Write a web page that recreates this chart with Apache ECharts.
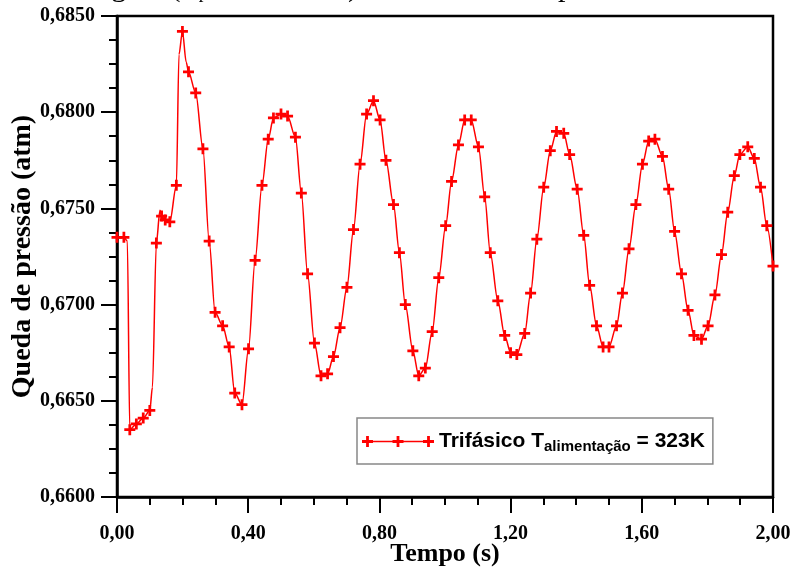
<!DOCTYPE html>
<html>
<head>
<meta charset="utf-8">
<script src="https://cdn.jsdelivr.net/npm/echarts@6/dist/echarts.min.js"></script>
<style>
html,body{margin:0;padding:0;background:#fff;}
#chart{width:794px;height:574px;}
</style>
</head>
<body>
<div id="chart"></div>
<script>
// Time (s)
const timeS = [
  0.000, 0.021, 0.0315, 0.039, 0.059, 0.080, 0.100, 0.108, 0.120, 0.131,
  0.136, 0.147, 0.161, 0.181, 0.189, 0.1995, 0.211, 0.218, 0.240, 0.262,
  0.281, 0.299, 0.322, 0.342, 0.359, 0.381, 0.401, 0.421, 0.442, 0.461,
  0.477, 0.500, 0.520, 0.544, 0.562, 0.581, 0.602, 0.622, 0.642, 0.660,
  0.680, 0.701, 0.721, 0.741, 0.761, 0.782, 0.802, 0.820, 0.843, 0.861,
  0.879, 0.902, 0.920, 0.940, 0.961, 0.981, 1.002, 1.020, 1.041, 1.060,
  1.080, 1.102, 1.121, 1.138, 1.161, 1.182, 1.200, 1.219, 1.243, 1.261,
  1.280, 1.301, 1.321, 1.340, 1.362, 1.380, 1.403, 1.423, 1.441, 1.462,
  1.482, 1.500, 1.523, 1.541, 1.561, 1.582, 1.602, 1.621, 1.640, 1.663,
  1.682, 1.700, 1.721, 1.741, 1.759, 1.782, 1.802, 1.823, 1.843, 1.862,
  1.882, 1.899, 1.923, 1.943, 1.962, 1.981, 2.000
];
// Queda de pressão (atm)
const pressureAtm = [
  0.6735, 0.6735, 0.6733, 0.6635, 0.6638, 0.6641, 0.6645, 0.6657, 0.6732, 0.6749,
  0.6746, 0.6744, 0.6743, 0.6762, 0.6830, 0.6842, 0.6826, 0.6821, 0.6810, 0.6781,
  0.6733, 0.6696, 0.6689, 0.6678, 0.6654, 0.6648, 0.6677, 0.6723, 0.6762, 0.6786,
  0.6797, 0.6799, 0.6798, 0.6787, 0.6758, 0.6716, 0.6680, 0.6663, 0.6664, 0.6673,
  0.6688, 0.6709, 0.6739, 0.6773, 0.6799, 0.6806, 0.6796, 0.6775, 0.6752, 0.6727,
  0.6700, 0.6676, 0.6663, 0.6667, 0.6686, 0.6714, 0.6741, 0.6764, 0.6783, 0.6796,
  0.6796, 0.6782, 0.6756, 0.6727, 0.6702, 0.6684, 0.6675, 0.6674, 0.6685, 0.6706,
  0.6734, 0.6761, 0.6780, 0.6790, 0.6789, 0.6778, 0.6760, 0.6736, 0.6710, 0.6689,
  0.6678, 0.6678, 0.6689, 0.6706, 0.6729, 0.6752, 0.6773, 0.6785, 0.6786, 0.6777,
  0.6760, 0.6738, 0.6716, 0.6697, 0.6684, 0.6682, 0.6689, 0.6705, 0.6726, 0.6748,
  0.6767, 0.6778, 0.6782, 0.6776, 0.6761, 0.6741, 0.6720
];
// 1 = point drawn with a "+" marker, 0 = line-only point
const showMarker = [
  1,1,0,1,1,1,1,0,1,0,
  1,1,1,1,0,1,0,1,1,1,
  1,1,1,1,1,1,1,1,1,1,
  1,1,1,1,1,1,1,1,1,1,
  1,1,1,1,1,1,1,1,1,1,
  1,1,1,1,1,1,1,1,1,1,
  1,1,1,1,1,1,1,1,1,1,
  1,1,1,1,1,1,1,1,1,1,
  1,1,1,1,1,1,1,1,1,1,
  1,1,1,1,1,1,1,1,1,1,
  1,1,1,1,1,1,1
];
const seriesName = 'Trifásico';
const xTicks = { min: 0, max: 2, interval: 0.4 };
const yTicks = { min: 0.66, max: 0.685, interval: 0.005 };

const crossPath = 'path://M3.75,0H6.25V3.75H10V6.25H6.25V10H3.75V6.25H0V3.75H3.75Z';
const legendIcon = 'path://M4.1,0H6.9V4.1H11V6.9H6.9V11H4.1V6.9H0V4.1H4.1Z' +
  'M34.6,0H37.4V4.1H41.5V6.9H37.4V11H34.6V6.9H30.5V4.1H34.6Z' +
  'M65.1,0H67.9V4.1H72V6.9H67.9V11H65.1V6.9H61V4.1H65.1Z' +
  'M5.5,4.8H66.5V6.2H5.5Z';

const seriesData = timeS.map((t, i) => ({
  value: [t, pressureAtm[i]],
  symbol: showMarker[i] ? crossPath : 'none'
}));

const serif = 'Liberation Serif';
const sans = 'Liberation Sans';

const chart = echarts.init(document.getElementById('chart'), null, { renderer: 'canvas' });
chart.setOption({
  animation: false,
  backgroundColor: '#fff',
  graphic: [{
    type: 'text',
    style: {
      x: 38,
      y: 3,
      verticalAlign: 'bottom',
      text: '{m|Drenagem (T}{s|parede}{m| = 323K) da mistura com perfil}',
      rich: {
        m: { fontFamily: serif, fontSize: 30, lineHeight: 30, fill: '#000', color: '#000' },
        s: { fontFamily: serif, fontSize: 19, lineHeight: 30, fill: '#000', color: '#000', padding: [10, 0, 0, 0] }
      }
    }
  }],
  grid: {
    left: 117, right: 21, top: 16, bottom: 77,
    outerBoundsMode: 'none',
    containLabel: false,
    show: true, borderColor: '#000', borderWidth: 2.5, backgroundColor: 'transparent'
  },
  legend: {
    show: true,
    left: 357, top: 418,
    selectedMode: false,
    padding: [11, 8, 10, 5],
    borderColor: '#888',
    borderWidth: 1.5,
    itemWidth: 72,
    itemHeight: 11,
    icon: legendIcon,
    formatter: () => '{a|Trifásico T}{b|alimentação}{a| = 323K}',
    textStyle: {
      rich: {
        a: { fontFamily: sans, fontSize: 21, lineHeight: 24, fontWeight: 'bold', color: '#000' },
        b: { fontFamily: sans, fontSize: 15, lineHeight: 24, fontWeight: 'bold', color: '#000', padding: [10, 0, 0, 0] }
      }
    },
    data: [seriesName]
  },
  xAxis: {
    type: 'value',
    min: xTicks.min, max: xTicks.max, interval: xTicks.interval,
    name: 'Tempo (s)',
    nameLocation: 'middle',
    nameGap: 44,
    nameMoveOverlap: false,
    nameTextStyle: { fontFamily: serif, fontSize: 26, fontWeight: 'bold', color: '#000' },
    axisLine: { onZero: false, lineStyle: { color: '#000', width: 2.5 } },
    axisTick: { show: true, length: 16, lineStyle: { color: '#000', width: 2 } },
    minorTick: { show: true, splitNumber: 4, length: 8, lineStyle: { color: '#000', width: 2 } },
    splitLine: { show: false },
    minorSplitLine: { show: false },
    axisLabel: {
      margin: 27,
      fontFamily: serif, fontSize: 20, fontWeight: 'bold', color: '#000',
      formatter: v => v.toFixed(2).replace('.', ',')
    }
  },
  yAxis: {
    type: 'value',
    min: yTicks.min, max: yTicks.max, interval: yTicks.interval,
    name: 'Queda de pressão (atm)',
    nameLocation: 'middle',
    nameGap: 80,
    nameMoveOverlap: false,
    nameRotate: 90,
    nameTextStyle: { fontFamily: serif, fontSize: 28, fontWeight: 'bold', color: '#000' },
    axisLine: { show: true, onZero: false, lineStyle: { color: '#000', width: 2.5 } },
    axisTick: { show: true, length: 16, lineStyle: { color: '#000', width: 2 } },
    minorTick: { show: true, splitNumber: 4, length: 8, lineStyle: { color: '#000', width: 2 } },
    splitLine: { show: false },
    minorSplitLine: { show: false },
    axisLabel: {
      margin: 22,
      fontFamily: serif, fontSize: 20, fontWeight: 'bold', color: '#000',
      formatter: v => v.toFixed(4).replace('.', ',')
    }
  },
  series: [{
    name: seriesName,
    type: 'line',
    data: seriesData,
    smooth: 0.3,
    smoothMonotone: 'x',
    symbolSize: 11,
    showAllSymbol: true,
    lineStyle: { color: '#ff0000', width: 1.5 },
    itemStyle: { color: '#ff0000', borderWidth: 0 },
    emphasis: { disabled: true }
  }]
});
</script>
</body>
</html>
